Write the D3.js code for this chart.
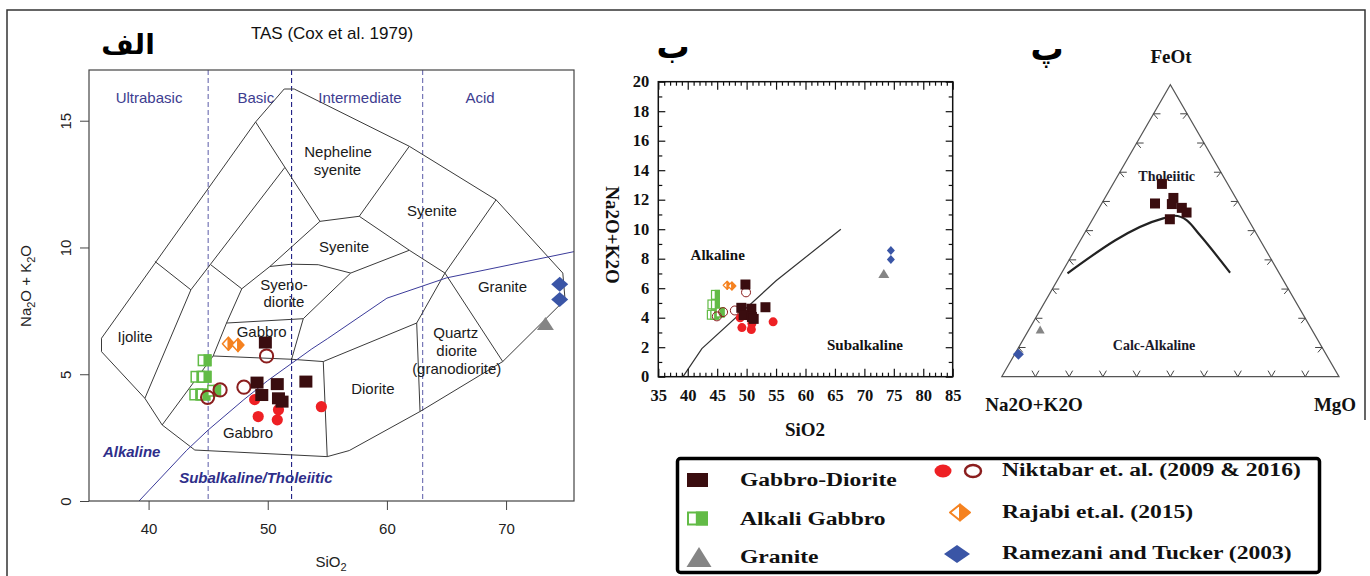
<!DOCTYPE html>
<html>
<head>
<meta charset="utf-8">
<script src="https://cdn.jsdelivr.net/npm/d3@7"></script>
<style>
  body { margin: 0; background: #fff; }
  svg { display: block; }
</style>
</head>
<body>
<div id="canvas"></div>
<script>
// ---------- data : SiO2 vs Na2O+K2O (wt%) ----------
const gabbroDiorite = [[49.8, 6.25], [49.1, 4.67], [50.8, 4.61], [49.5, 4.18], [50.9, 4.05], [51.2, 3.92], [53.2, 4.71]];
const alkaliGabbro = [[44.7, 5.55], [44.1, 4.9], [44.7, 4.9], [44.0, 4.2], [44.6, 4.2], [45.5, 4.35]];
const granite = [[73.3, 7.0]];
const niktabarFilled = [[48.9, 4.0], [49.2, 3.33], [50.9, 3.6], [50.8, 3.2], [54.5, 3.72]];
const niktabarOpen = [[49.9, 5.72], [44.95, 4.09], [46.0, 4.38], [48.0, 4.49]];
const rajabi = [[46.7, 6.2], [47.5, 6.15]];
const ramezani = [[74.5, 8.55], [74.5, 7.95]];

// AFM : [Na2O+K2O, FeOt, MgO] %
const afmGabbroDiorite = [[19.5, 66.0, 14.5], [24.9, 59.3, 15.8], [18.5, 61.2, 20.3], [20.0, 59.1, 20.9], [17.7, 57.8, 24.5], [17.1, 56.2, 26.7], [23.2, 53.9, 22.9]];
const afmGranite = [[80.5, 16.2, 3.3]];
const afmRamezani = [[91.2, 7.7, 1.1]];
const afmBoundary = [[62.8, 35.4, 1.8], [25.0, 54.2, 20.8], [21.1, 55.1, 23.8], [18.4, 53.6, 28.0], [17.0, 48.5, 34.5], [14.5, 35.6, 49.9]];

// TAS (Cox et al. 1979) template
const tasOutline = [[51.38, 16.25], [52.22, 16.25], [61.88, 13.99], [69.16, 11.88], [74.76, 8.99], [74.95, 7.94], [69.72, 5.5],
  [62.78, 3.53], [56.84, 1.99], [54.99, 1.75], [43.88, 2.01], [41.14, 3.0], [39.69, 4.05], [36.05, 5.89], [36.05, 6.42],
  [48.98, 14.95], [51.38, 16.25]];
const tasLines = [
  [[48.98, 14.95], [51.44, 13.16], [54.38, 11.03]],
  [[51.44, 13.16], [43.55, 8.33], [39.69, 4.05]],
  [[40.53, 9.45], [43.55, 8.33]],
  [[54.38, 11.03], [50.18, 9.25], [47.82, 8.37], [46.54, 7.02], [45.42, 5.72], [41.14, 3.0]],
  [[45.24, 9.31], [47.82, 8.37]],
  [[50.18, 9.25], [52.0, 9.34], [54.24, 9.32], [56.96, 8.99], [61.88, 9.89]],
  [[54.38, 11.03], [57.68, 11.23], [61.88, 13.99]],
  [[57.68, 11.23], [61.88, 9.89], [64.87, 8.99], [69.72, 5.5]],
  [[69.16, 11.88], [64.87, 8.99], [62.5, 7.02], [62.78, 3.53]],
  [[62.5, 7.02], [54.66, 5.5], [54.99, 1.75]],
  [[45.42, 5.72], [52.0, 5.59], [54.66, 5.5]],
  [[46.54, 7.02], [52.98, 7.19]],
  [[56.96, 8.99], [52.98, 7.19], [52.0, 5.59]]
];
const tasFieldNames = [
  ["Nepheline", 55.9, 13.78], ["syenite", 55.85, 13.06], ["Syenite", 63.78, 11.45], ["Syenite", 56.4, 10.01],
  ["Syeno-", 51.36, 8.52], ["diorite", 51.36, 7.86], ["Gabbro", 49.49, 6.68], ["Ijolite", 38.86, 6.46],
  ["Gabbro", 48.34, 2.69], ["Diorite", 58.82, 4.42], ["Quartz", 65.78, 6.64], ["diorite", 65.86, 5.93],
  ["(granodiorite)", 65.86, 5.2], ["Granite", 69.7, 8.45]
];
const silicaDividers = [45, 52, 63];
const silicaClasses = [["Ultrabasic", 40.04], ["Basic", 49.0], ["Intermediate", 57.74], ["Acid", 67.81]];
const irvineSiO2 = [39.2, 40, 43.2, 45, 48, 50, 53.7, 55, 60, 65, 77.4];
const irvineAlk = [0, 0.4, 2, 2.8, 4, 4.75, 6, 6.4, 8, 8.8, 10];
const alkLineB = [[39.2, 0], [42.4, 1.9], [55, 6.5], [66, 10]];

const tasTicksX = [40, 50, 60, 70];
const tasTicksY = [0, 5, 10, 15];
const legendLeft = ["Gabbro-Diorite", "Alkali Gabbro", "Granite"];
const legendRight = ["Niktabar et. al. (2009 & 2016)", "Rajabi et.al. (2015)", "Ramezani and Tucker (2003)"];

// ---------- styles ----------
const sans = "'Liberation Sans', Arial, sans-serif";
const serif = "'Liberation Serif', 'Times New Roman', serif";
const C = {
  gd: "#3a0d0f", green: "#62bb46", gray: "#858585", red: "#ee2024",
  ring: "#8b1e1e", orange: "#f58220", blue: "#3a55a6", navy: "#2e2e8a"
};

const svg = d3.select("#canvas").append("svg")
  .attr("width", 1370)
  .attr("height", 576);

// outer frame
svg.append("path")
  .attr("d", "M7,580 V10 H1365 V420")
  .attr("fill", "none").attr("stroke", "#333").attr("stroke-width", 1.5);

// ---------- marker helpers ----------
function square(g, x, y, w, h, color) {
  g.append("rect").attr("x", x - w / 2).attr("y", y - h / 2).attr("width", w).attr("height", h).attr("fill", color);
}
function halfSquare(g, x, y, w, h, color, sw) {
  g.append("rect").attr("x", x - w / 2 + sw / 2).attr("y", y - h / 2 + sw / 2)
    .attr("width", w - sw).attr("height", h - sw)
    .attr("fill", "#fff").attr("stroke", color).attr("stroke-width", sw);
  g.append("rect").attr("x", x - w / 2 + w * 0.42).attr("y", y - h / 2).attr("width", w * 0.58).attr("height", h).attr("fill", color);
}
function dot(g, x, y, rx, ry, color) {
  g.append("ellipse").attr("cx", x).attr("cy", y).attr("rx", rx).attr("ry", ry).attr("fill", color);
}
function ring(g, x, y, rx, ry, color, sw) {
  g.append("ellipse").attr("cx", x).attr("cy", y).attr("rx", rx).attr("ry", ry)
    .attr("fill", "none").attr("stroke", color).attr("stroke-width", sw);
}
function halfDiamond(g, x, y, w, h, color, sw) {
  g.append("path").attr("d", `M${x},${y - h / 2}L${x - w / 2},${y}L${x},${y + h / 2}Z`)
    .attr("fill", "#fff").attr("stroke", color).attr("stroke-width", sw).attr("stroke-linejoin", "round");
  g.append("path").attr("d", `M${x},${y - h / 2}L${x + w / 2},${y}L${x},${y + h / 2}Z`).attr("fill", color)
    .attr("stroke", color).attr("stroke-width", sw).attr("stroke-linejoin", "round");
}
function diamond(g, x, y, w, h, color) {
  g.append("path").attr("d", `M${x},${y - h / 2}L${x + w / 2},${y}L${x},${y + h / 2}L${x - w / 2},${y}Z`).attr("fill", color);
}
function triangle(g, x, y, w, h, color) {
  g.append("path").attr("d", `M${x},${y - h / 2}L${x + w / 2},${y + h / 2}L${x - w / 2},${y + h / 2}Z`).attr("fill", color);
}

function plotSamples(g, sx, sy, s) {
  alkaliGabbro.forEach(d => halfSquare(g, sx(d[0]), sy(d[1]), s.half[0], s.half[1], C.green, s.halfW));
  rajabi.forEach(d => halfDiamond(g, sx(d[0]), sy(d[1]), s.hd[0], s.hd[1], C.orange, s.hdW));
  niktabarFilled.forEach(d => dot(g, sx(d[0]), sy(d[1]), s.dot, s.dot, C.red));
  niktabarOpen.forEach(d => ring(g, sx(d[0]), sy(d[1]), s.ring, s.ring, C.ring, s.ringW));
  gabbroDiorite.forEach(d => square(g, sx(d[0]), sy(d[1]), s.sq[0], s.sq[1], C.gd));
  granite.forEach(d => triangle(g, sx(d[0]), sy(d[1]), s.tri[0], s.tri[1], C.gray));
  ramezani.forEach(d => diamond(g, sx(d[0]), sy(d[1]), s.dia[0], s.dia[1], C.blue));
}

// ================= Panel A : TAS (Cox et al. 1979) =================
const xA = d3.scaleLinear().domain([35, 75.7]).range([89, 574]);
const yA = d3.scaleLinear().domain([0, 17]).range([501, 70]);
const lineA = d3.line().x(d => xA(d[0])).y(d => yA(d[1]));
const gA = svg.append("g").style("font-family", sans);

gA.append("clipPath").attr("id", "clipA").append("rect")
  .attr("x", 89).attr("y", 70).attr("width", 485).attr("height", 431);

gA.append("text").attr("x", 332).attr("y", 39).attr("text-anchor", "middle")
  .attr("font-size", 17).attr("fill", "#111").text("TAS (Cox et al. 1979)");
gA.append("text").attr("x", 128).attr("y", 54).attr("text-anchor", "middle")
  .attr("font-family", "'DejaVu Sans', sans-serif").attr("font-weight", "bold").attr("font-size", 28)
  .attr("fill", "#000").text("الف");

const plotA = gA.append("g").attr("clip-path", "url(#clipA)");

silicaDividers.forEach((v, i) => {
  plotA.append("line").attr("x1", xA(v)).attr("x2", xA(v)).attr("y1", yA(17)).attr("y2", yA(0))
    .attr("stroke", i === 1 ? "#1f1f85" : "#6a6ab0").attr("stroke-width", 1.1).attr("stroke-dasharray", "5,3");
});
gA.selectAll(".cls").data(silicaClasses).join("text")
  .attr("x", d => xA(d[1])).attr("y", yA(15.91)).attr("dy", "0.35em").attr("text-anchor", "middle")
  .attr("font-size", 15).attr("fill", "#3d3d90").text(d => d[0]);

plotA.append("path").attr("d", lineA(tasOutline)).attr("fill", "none").attr("stroke", "#3a3a3a").attr("stroke-width", 1);
tasLines.forEach(l => plotA.append("path").attr("d", lineA(l)).attr("fill", "none").attr("stroke", "#3a3a3a").attr("stroke-width", 1));

plotA.append("path").attr("d", lineA(irvineSiO2.map((v, i) => [v, irvineAlk[i]])))
  .attr("fill", "none").attr("stroke", "#3b3b9a").attr("stroke-width", 1);

gA.selectAll(".fld").data(tasFieldNames).join("text")
  .attr("x", d => xA(d[1])).attr("y", d => yA(d[2])).attr("dy", "0.35em").attr("text-anchor", "middle")
  .attr("font-size", 15).attr("fill", "#1a1a1a").text(d => d[0]);

gA.append("text").attr("x", xA(38.58)).attr("y", yA(1.94)).attr("dy", "0.35em").attr("text-anchor", "middle")
  .attr("font-size", 15).attr("font-weight", "bold").attr("font-style", "italic").attr("fill", C.navy).text("Alkaline");
gA.append("text").attr("x", xA(49.0)).attr("y", yA(0.93)).attr("dy", "0.35em").attr("text-anchor", "middle")
  .attr("font-size", 15).attr("font-weight", "bold").attr("font-style", "italic").attr("fill", C.navy).text("Subalkaline/Tholeiitic");

plotSamples(plotA, xA, yA, {
  sq: [13, 12], half: [14, 12], halfW: 1.5, dot: 5.6, ring: 6.6, ringW: 2,
  hd: [12, 13], hdW: 1.5, tri: [17, 13], dia: [17, 15]
});

gA.append("rect").attr("x", 89).attr("y", 70).attr("width", 485).attr("height", 431)
  .attr("fill", "none").attr("stroke", "#444").attr("stroke-width", 1.2);

const axAx = gA.append("g").attr("transform", `translate(0,${yA(0)})`)
  .call(d3.axisBottom(xA).tickValues(tasTicksX).tickSize(9).tickPadding(13).tickSizeOuter(0));
const axAy = gA.append("g").attr("transform", `translate(${xA(35)},0)`)
  .call(d3.axisLeft(yA).tickValues(tasTicksY).tickSize(9).tickSizeOuter(0));
[axAx, axAy].forEach(a => {
  a.select(".domain").remove();
  a.selectAll("line").attr("stroke", "#444");
  a.selectAll("text").attr("font-size", 15).attr("font-family", sans).attr("fill", "#222");
});
axAy.selectAll(".tick text").attr("x", 0).attr("dy", 0).attr("text-anchor", "middle")
  .attr("transform", "translate(-18,0) rotate(-90)");

const tA = gA.append("text").attr("x", 331).attr("y", 567).attr("text-anchor", "middle")
  .attr("font-size", 15).attr("fill", "#222");
tA.append("tspan").text("SiO");
tA.append("tspan").attr("font-size", 11).attr("dy", 4).text("2");

const yT = gA.append("text").attr("text-anchor", "middle").attr("font-size", 15).attr("fill", "#222")
  .attr("transform", "translate(31,286) rotate(-90)");
yT.append("tspan").text("Na");
yT.append("tspan").attr("font-size", 11).attr("dy", 4).text("2");
yT.append("tspan").attr("dy", -4).text("O + K");
yT.append("tspan").attr("font-size", 11).attr("dy", 4).text("2");
yT.append("tspan").attr("dy", -4).text("O");

// ================= Panel B : SiO2 vs Na2O+K2O =================
const xB = d3.scaleLinear().domain([35, 85]).range([658.3, 952.7]);
const yB = d3.scaleLinear().domain([0, 20]).range([376.7, 81.7]);
const gB = svg.append("g").style("font-family", serif).attr("font-weight", "bold");

gB.append("text").attr("x", 673).attr("y", 58).attr("text-anchor", "middle")
  .attr("font-family", "'DejaVu Sans', sans-serif").attr("font-size", 33).attr("fill", "#000").text("ب");

gB.append("path").attr("d", d3.line().x(d => xB(d[0])).y(d => yB(d[1]))(alkLineB))
  .attr("fill", "none").attr("stroke", "#333").attr("stroke-width", 1.2);

gB.append("text").attr("x", xB(45.09)).attr("y", yB(8.25)).attr("dy", "0.35em").attr("text-anchor", "middle")
  .attr("font-size", 15).attr("fill", "#111").text("Alkaline");
gB.append("text").attr("x", xB(70.1)).attr("y", yB(2.2)).attr("dy", "0.35em").attr("text-anchor", "middle")
  .attr("font-size", 15).attr("fill", "#111").text("Subalkaline");

plotSamples(gB, xB, yB, {
  sq: [10, 10], half: [9, 10], halfW: 1.2, dot: 4.5, ring: 4.5, ringW: 1,
  hd: [8, 8], hdW: 1.2, tri: [11, 9], dia: [8, 9]
});

gB.append("rect").attr("x", xB(35)).attr("y", yB(20)).attr("width", xB(85) - xB(35)).attr("height", yB(0) - yB(20))
  .attr("fill", "none").attr("stroke", "#111").attr("stroke-width", 1.5);

const minorX = d3.range(35, 86, 1).filter(v => v % 5 !== 0);
const majorX = d3.range(35, 86, 5);
const minorY = d3.range(1, 20, 2);
const majorY = d3.range(0, 21, 2);
const axesB = [
  gB.append("g").attr("transform", `translate(0,${yB(0)})`).call(d3.axisBottom(xB).tickValues(minorX).tickSize(-4).tickFormat("")),
  gB.append("g").attr("transform", `translate(0,${yB(0)})`).call(d3.axisBottom(xB).tickValues(majorX).tickSize(-8).tickPadding(13)),
  gB.append("g").attr("transform", `translate(0,${yB(20)})`).call(d3.axisTop(xB).tickValues(minorX).tickSize(-4).tickFormat("")),
  gB.append("g").attr("transform", `translate(0,${yB(20)})`).call(d3.axisTop(xB).tickValues(majorX).tickSize(-8).tickFormat("")),
  gB.append("g").attr("transform", `translate(${xB(35)},0)`).call(d3.axisLeft(yB).tickValues(minorY).tickSize(-4).tickFormat("")),
  gB.append("g").attr("transform", `translate(${xB(35)},0)`).call(d3.axisLeft(yB).tickValues(majorY).tickSize(-7).tickPadding(9)),
  gB.append("g").attr("transform", `translate(${xB(85)},0)`).call(d3.axisRight(yB).tickValues(minorY).tickSize(-4).tickFormat("")),
  gB.append("g").attr("transform", `translate(${xB(85)},0)`).call(d3.axisRight(yB).tickValues(majorY).tickSize(-7).tickFormat(""))
];
axesB.forEach(a => {
  a.select(".domain").remove();
  a.selectAll("line").attr("stroke", "#111").attr("stroke-width", 1.2);
  a.selectAll("text").attr("font-size", 16.5).attr("font-family", serif).attr("font-weight", "bold").attr("fill", "#111");
});

gB.append("text").attr("x", 805).attr("y", 436).attr("text-anchor", "middle").attr("font-size", 19).attr("fill", "#111").text("SiO2");
gB.append("text").attr("text-anchor", "middle").attr("font-size", 19).attr("fill", "#111")
  .attr("transform", "translate(606,235) rotate(90)").text("Na2O+K2O");

// ================= Panel C : AFM ternary =================
const tx = d3.scaleLinear().domain([0, 100]).range([1001.7, 1339]);
const ty = d3.scaleLinear().domain([0, 100]).range([376.7, 84.6]);
const proj = d => [tx(d[2] + d[1] / 2), ty(d[1])];
const gC = svg.append("g").style("font-family", serif).attr("font-weight", "bold");

gC.append("text").attr("x", 1047).attr("y", 60).attr("text-anchor", "middle")
  .attr("font-family", "'DejaVu Sans', sans-serif").attr("font-size", 33).attr("fill", "#000").text("پ");

gC.append("path").attr("d", d3.line()([proj([100, 0, 0]), proj([0, 100, 0]), proj([0, 0, 100])]) + "Z")
  .attr("fill", "none").attr("stroke", "#555").attr("stroke-width", 1.2);

const tickLen = 7;
const ticks = [];
d3.range(10, 100, 10).forEach(v => {
  const b = proj([100 - v, 0, v]);
  ticks.push([b, [b[0] - tickLen * 0.5, b[1] - tickLen * 0.866]], [b, [b[0] + tickLen * 0.5, b[1] - tickLen * 0.866]]);
  const l = proj([100 - v, v, 0]);
  ticks.push([l, [l[0] + tickLen, l[1]]], [l, [l[0] + tickLen * 0.6, l[1] + tickLen * 0.7]]);
  const r = proj([0, v, 100 - v]);
  ticks.push([r, [r[0] - tickLen, r[1]]], [r, [r[0] - tickLen * 0.6, r[1] + tickLen * 0.7]]);
});
gC.selectAll(".tk").data(ticks).join("path").attr("d", d => d3.line()(d))
  .attr("fill", "none").attr("stroke", "#444").attr("stroke-width", 1);

gC.append("path").attr("d", d3.line().curve(d3.curveMonotoneX)(afmBoundary.map(proj)))
  .attr("fill", "none").attr("stroke", "#222").attr("stroke-width", 2.2);

gC.append("text").attr("x", 1166.7).attr("y", 176).attr("dy", "0.35em").attr("text-anchor", "middle")
  .attr("font-size", 14).attr("fill", "#1a1a2a").text("Tholeiitic");
gC.append("text").attr("x", 1154).attr("y", 345).attr("dy", "0.35em").attr("text-anchor", "middle")
  .attr("font-size", 14).attr("fill", "#1a1a2a").text("Calc-Alkaline");

afmGabbroDiorite.forEach(d => { const p = proj(d); square(gC, p[0], p[1], 10, 10, C.gd); });
afmGranite.forEach(d => { const p = proj(d); triangle(gC, p[0], p[1], 9, 8, C.gray); });
afmRamezani.forEach(d => { const p = proj(d); diamond(gC, p[0], p[1], 11, 11, C.blue); });

gC.append("text").attr("x", 1171).attr("y", 63).attr("text-anchor", "middle").attr("font-size", 19).attr("fill", "#111").text("FeOt");
gC.append("text").attr("x", 1034).attr("y", 411).attr("text-anchor", "middle").attr("font-size", 19).attr("fill", "#111").text("Na2O+K2O");
gC.append("text").attr("x", 1335).attr("y", 411).attr("text-anchor", "middle").attr("font-size", 19).attr("fill", "#111").text("MgO");

// ================= Legend =================
const gL = svg.append("g").style("font-family", serif).attr("font-weight", "bold");
gL.append("rect").attr("x", 677.5).attr("y", 458.5).attr("width", 642).attr("height", 114).attr("rx", 3)
  .attr("fill", "none").attr("stroke", "#000").attr("stroke-width", 3.5);

const rowLeft = d3.scalePoint().domain(legendLeft).range([480, 557]);
const rowRight = d3.scalePoint().domain(legendRight).range([471, 554]);

square(gL, 697.5, rowLeft(legendLeft[0]), 21, 14, C.gd);
halfSquare(gL, 697.5, rowLeft(legendLeft[1]), 21, 14, C.green, 2);
triangle(gL, 699, rowLeft(legendLeft[2]), 25, 20, C.gray);
dot(gL, 943, rowRight(legendRight[0]), 8.5, 6.5, C.red);
ring(gL, 973, rowRight(legendRight[0]), 8, 6, C.ring, 2.5);
halfDiamond(gL, 960, rowRight(legendRight[1]), 20, 16, C.orange, 2);
diamond(gL, 957, rowRight(legendRight[2]), 26, 18, C.blue);

gL.selectAll(".ll").data(legendLeft).join("text")
  .attr("transform", d => `translate(740,${rowLeft(d) + 6}) scale(1.31,1)`)
  .attr("font-size", 18).attr("fill", "#111").text(d => d);
gL.selectAll(".lr").data(legendRight).join("text")
  .attr("transform", d => `translate(1002,${rowRight(d) + 5}) scale(1.31,1)`)
  .attr("font-size", 18).attr("fill", "#111").text(d => d);
</script>
</body>
</html>
